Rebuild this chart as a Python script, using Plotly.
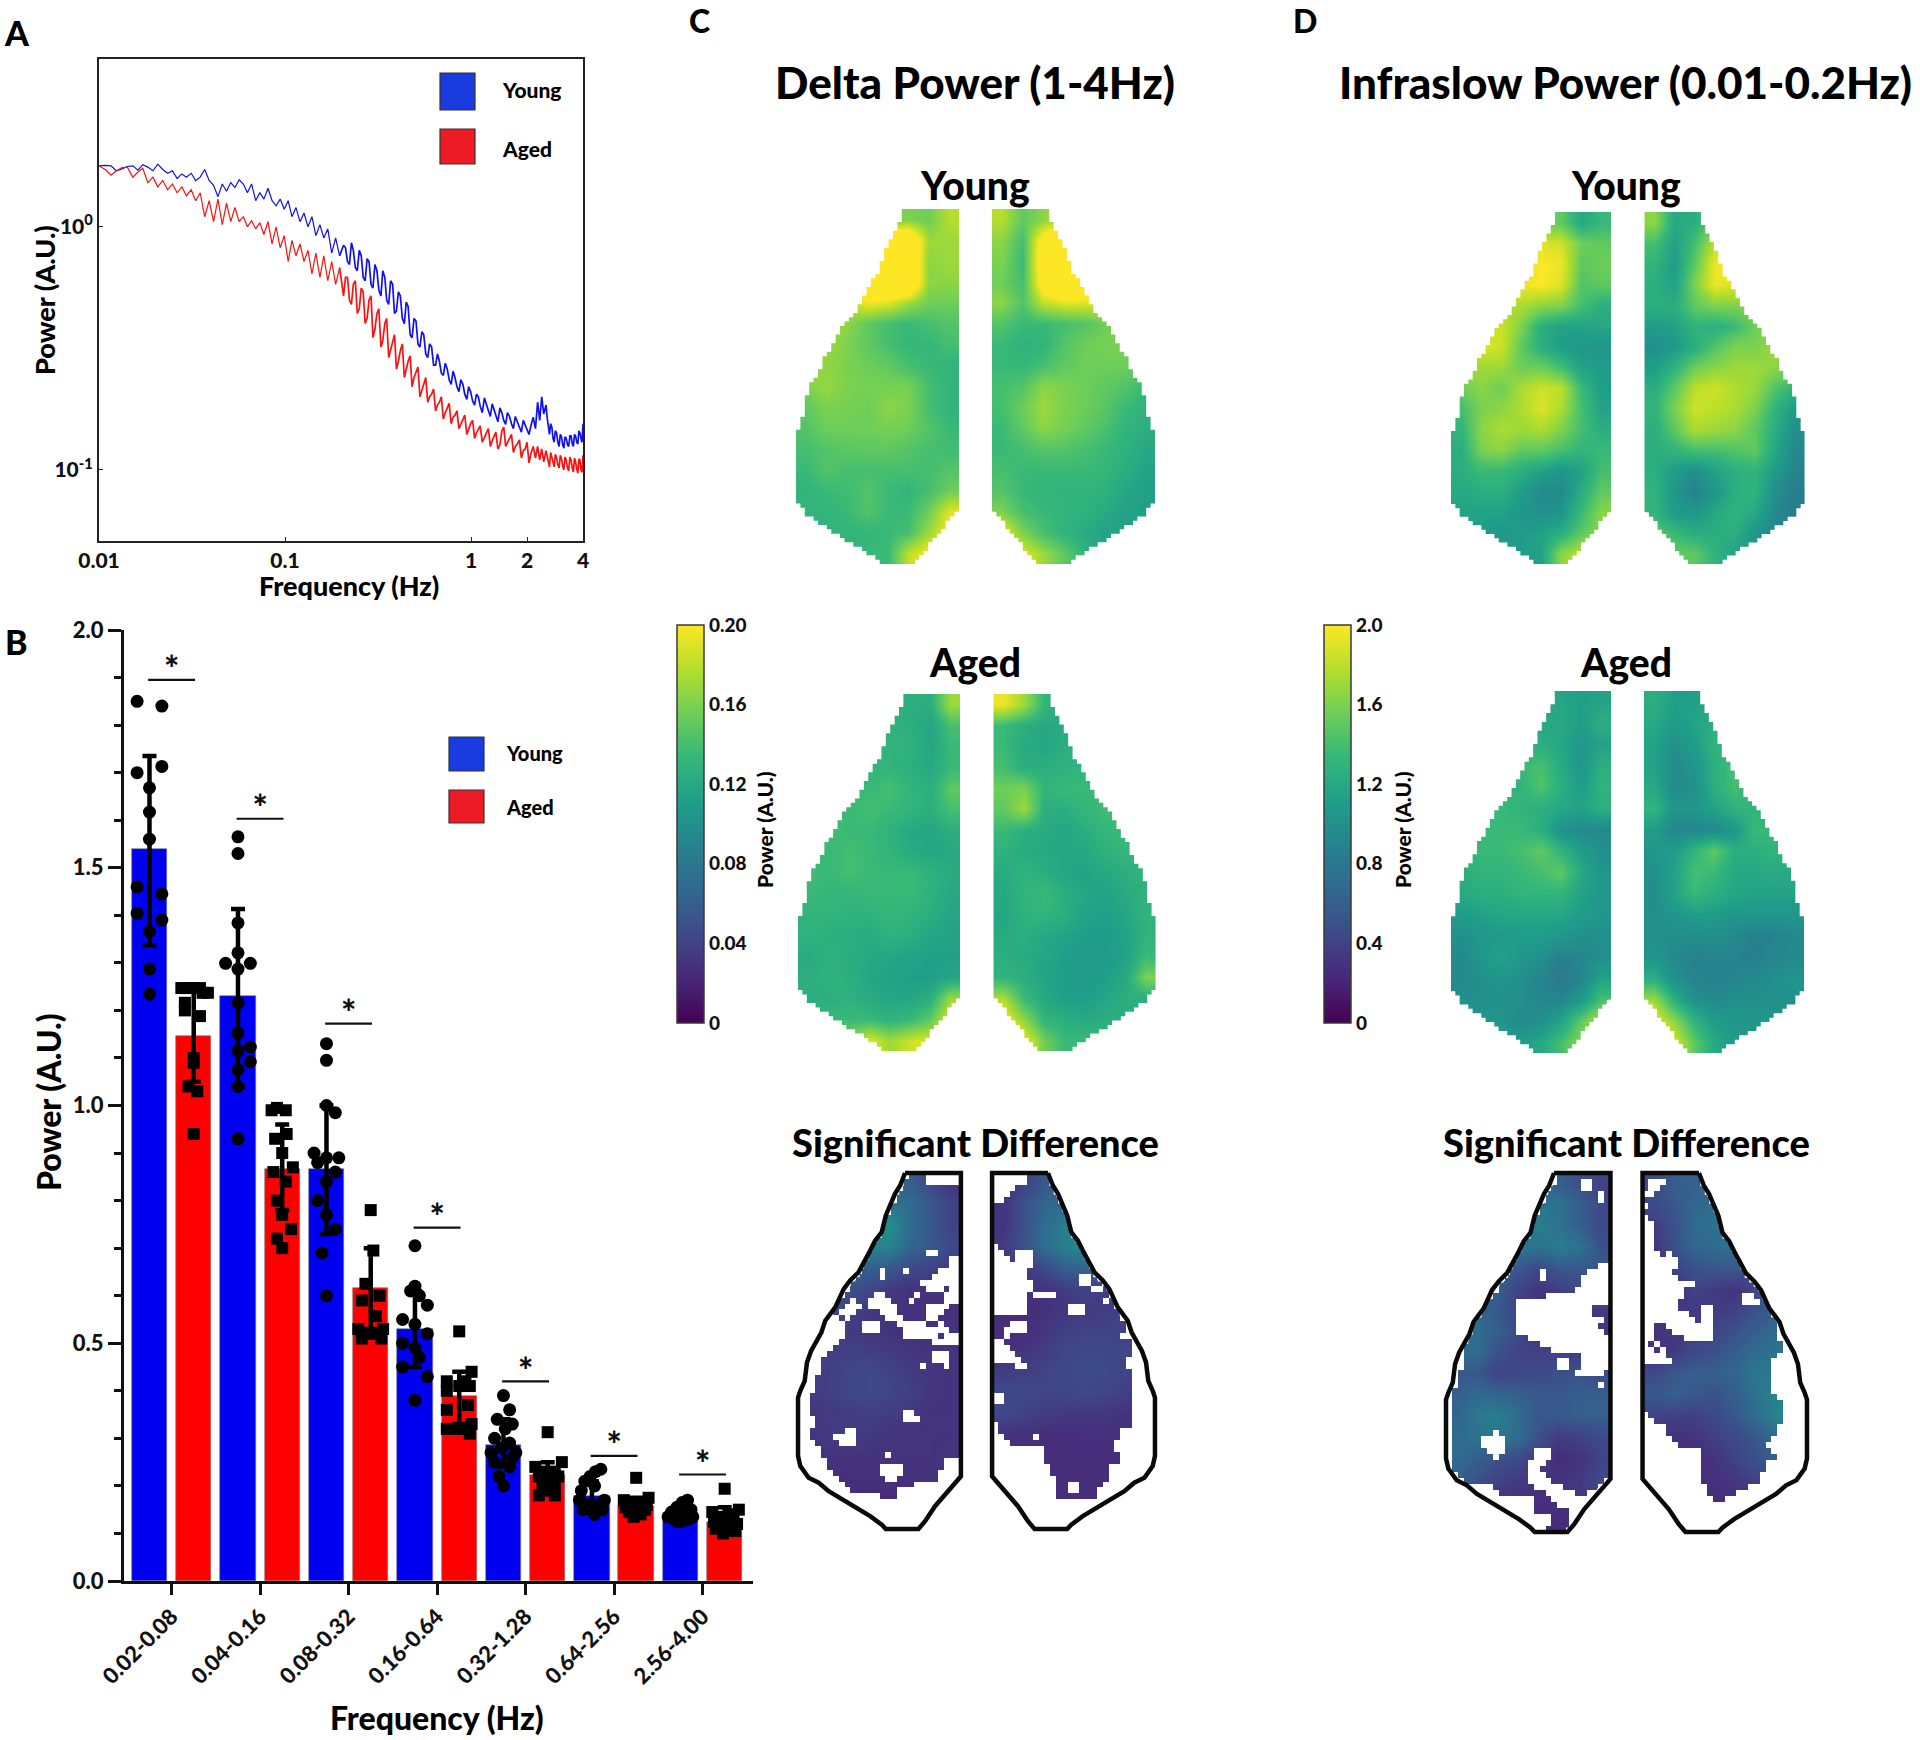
import numpy as np
import plotly.graph_objects as go

W, H = 1920, 1740
FONT = "Lato"
FW = 900
BLUE, RED = "#0000f0", "#ff0000"

# ---------- Panel A ----------
FREQ = [.0100,.0108,.0116,.0124,.0133,.0142,.0152,.0162,.0172,.0183,
 .0195,.0207,.0220,.0234,.0248,.0263,.0279,.0295,.0313,.0331,
 .0350,.0370,.0391,.0413,.0436,.0460,.0485,.0511,.0538,.0567,
 .0597,.0628,.0661,.0696,.0732,.0770,.0810,.0852,.0896,.0942,
 .0990,.104,.109,.1146,.1204,.1265,.1329,.1396,.1466,.154,
 .1617,.1698,.1783,.1872,.1966,.2064,.2167,.2275,.2388,.2507,
 .2632,.2763,.290,.3044,.3195,.3354,.352,.3695,.3878,.407,
 .4272,.4484,.4706,.4939,.5184,.5441,.571,.5993,.629,.6601,
 .6928,.7271,.7631,.8009,.8405,.8821,.9258,.9716,1.02,1.07,
 1.12,1.18,1.24,1.30,1.36,1.43,1.50,1.57,1.65,1.73,
 1.82,1.91,2.00,2.10,2.16,2.22,2.28,2.34,2.40,2.46,
 2.53,2.60,2.68,2.76,2.84,2.93,3.02,3.11,3.20,3.30,
 3.40,3.50,3.60,3.70,3.80,3.90,4.00]
YOUNG_PSD = [1.78,1.79,1.78,1.70,1.73,1.77,1.78,1.71,1.80,1.76,
 1.70,1.81,1.72,1.66,1.70,1.58,1.65,1.60,1.66,1.55,
 1.60,1.72,1.55,1.48,1.33,1.50,1.40,1.52,1.45,1.56,
 1.50,1.38,1.50,1.28,1.38,1.30,1.44,1.28,1.22,1.30,
 1.18,1.28,1.10,1.20,1.05,1.14,1.00,1.10,.92,1.02,
 .90,.98,.78,.90,.76,.84,.72,.86,.68,.80,
 .62,.74,.58,.70,.55,.66,.50,.60,.44,.54,
 .42,.49,.36,.42,.33,.37,.30,.33,.27,.30,
 .25,.275,.235,.255,.22,.235,.205,.22,.192,.205,
 .183,.198,.175,.187,.168,.18,.16,.172,.155,.166,
 .15,.16,.145,.152,.165,.148,.19,.16,.20,.17,
 .185,.15,.155,.135,.145,.13,.14,.127,.137,.127,
 .138,.128,.14,.13,.145,.135,.155]
AGED_PSD = [1.78,1.72,1.63,1.70,1.75,1.76,1.60,1.68,1.74,1.52,
 1.60,1.46,1.55,1.42,1.50,1.38,1.46,1.34,1.42,1.28,
 1.38,1.10,1.28,1.05,1.30,1.02,1.25,1.05,1.20,1.05,
 1.10,1.00,1.06,.98,1.04,.93,1.05,.85,1.00,.82,
 .92,.72,.88,.76,.85,.72,.80,.64,.78,.62,
 .76,.60,.72,.58,.68,.52,.62,.48,.60,.46,
 .54,.42,.52,.38,.46,.34,.42,.31,.36,.28,
 .33,.26,.295,.24,.265,.215,.24,.20,.215,.185,
 .20,.172,.188,.165,.175,.155,.168,.148,.16,.142,
 .152,.137,.148,.132,.143,.127,.15,.13,.14,.125,
 .133,.12,.13,.117,.125,.112,.125,.11,.122,.108,
 .12,.108,.118,.106,.116,.105,.115,.104,.113,.102,
 .113,.102,.112,.101,.111,.1,.115]
FREQ_EXTRA = [.2115,.222,.233,.2447,.257,.2697,.283,.297,.312,.328,.344,.361,.379,.397,.417,.438,.459,.482,.506,.531,
 .557,.585,.614,.645,.676,.71,.745,.782,.82,.861,.904,.949,.995,1.045,1.095,1.15,1.21,1.27,1.33,1.395,
 1.465,1.535,1.61,1.69,1.775,1.865,1.955,2.05,
 2.565,2.64,2.72,2.8,2.885,2.975,3.065,3.155,3.25,3.35,3.45,3.55,3.65,3.75,3.85,3.95]
YOUNG_EXTRA = [.82,.70,.80,.66,.76,.60,.72,.56,.66,.52,.62,.48,.58,.45,.52,.40,.47,.35,.41,.32,
 .36,.29,.32,.27,.28,.245,.26,.225,.24,.21,.225,.195,.21,.185,.2,.172,.186,.166,.178,.158,
 .172,.154,.166,.148,.158,.143,.153,.14,
 .165,.14,.15,.13,.142,.125,.137,.123,.135,.125,.138,.125,.138,.128,.142,.13]
AGED_EXTRA = [.62,.50,.58,.44,.56,.40,.50,.35,.44,.32,.40,.29,.34,.26,.31,.24,.28,.22,.25,.2,
 .225,.19,.205,.175,.19,.162,.18,.155,.168,.148,.16,.14,.155,.135,.148,.13,.142,.125,.138,.122,
 .145,.125,.135,.118,.128,.112,.122,.107,
 .114,.103,.112,.103,.112,.102,.111,.1,.11,.099,.11,.098,.108,.097,.11,.098]

# ---------- Panel B ----------
BANDS = ["0.02-0.08","0.04-0.16","0.08-0.32","0.16-0.64","0.32-1.28","0.64-2.56","2.56-4.00"]
YOUNG_MEAN = [1.54,1.23,.867,.53,.286,.178,.13]
AGED_MEAN = [1.146,.867,.617,.39,.222,.158,.124]
YOUNG_HI = [1.735,1.413,1.00,.61,.34,.21,.145]
YOUNG_LO = [1.337,1.04,.73,.45,.24,.155,.12]
AGED_HI = [1.24,.96,.70,.44,.25,.175,.155]
AGED_LO = [1.05,.78,.53,.33,.19,.14,.10]
SIG_Y = [1.895,1.603,1.172,.743,.42,.263,.224]
YOUNG_PTS = [
 [1.85,1.84,1.70,1.713,1.668,1.617,1.56,1.46,1.445,1.404,1.39,1.366,1.287,1.234],
 [1.565,1.53,1.384,1.321,1.287,1.299,1.299,1.216,1.152,1.123,1.115,1.092,1.075,1.04,.93],
 [1.13,1.095,1.0,.985,.90,.89,.89,.88,.86,.84,.80,.77,.74,.69,.60],
 [.705,.62,.61,.60,.58,.55,.54,.52,.50,.49,.47,.45,.43,.38],
 [.39,.36,.34,.33,.32,.30,.29,.28,.27,.27,.26,.25,.24,.22,.20],
 [.235,.23,.22,.21,.20,.19,.17,.17,.16,.16,.15,.15,.15,.14],
 [.17,.165,.155,.15,.145,.14,.135,.135,.13,.13,.125,.125],
]
YOUNG_OFF = [
 [-.14,.14,-.14,.14,0,0,0,-.14,.14,-.14,.14,0,0,0],
 [0,0,0,0,0,-.14,.14,0,0,.14,0,.14,0,0,0],
 [0,0,0,.1,-.14,.14,0,-.1,.1,0,-.1,0,.1,-.05,0],
 [0,0,-.05,.05,.14,-.14,0,.14,-.14,0,.05,-.14,.14,0],
 [0,.07,-.07,.1,.02,-.1,.07,-.02,.14,-.14,.1,-.1,.07,-.05,0],
 [.1,.04,-.02,-.08,.03,-.12,.14,-.14,.08,-.06,.12,-.1,0,.03],
 [.08,.02,-.04,.12,-.1,.05,-.14,.14,-.07,.09,0,-.03],
]
AGED_PTS = [
 [1.247,1.247,1.247,1.247,1.237,1.237,1.216,1.2,1.188,1.10,1.09,1.04,1.03,.94],
 [.995,.99,.99,.94,.93,.90,.87,.86,.84,.80,.77,.74,.72,.70],
 [.78,.695,.625,.60,.59,.557,.53,.53,.52,.52,.51,.51],
 [.525,.44,.42,.42,.41,.41,.40,.37,.36,.33,.32,.32,.32,.31],
 [.313,.25,.24,.23,.23,.22,.22,.21,.20,.20,.19,.18,.18],
 [.217,.175,.17,.165,.16,.16,.155,.15,.15,.145,.14,.135],
 [.194,.15,.145,.14,.14,.135,.13,.125,.12,.115,.11,.105,.10],
]
AGED_OFF = [
 [-.14,-.07,0,.07,.1,.16,-.1,-.1,.07,0,0,-.06,.04,0],
 [-.06,.04,-.12,.05,-.08,0,.12,-.1,.04,-.06,0,.1,-.06,0],
 [0,.03,-.06,.1,-.1,.06,-.14,.14,-.05,.03,.12,-.1],
 [0,.14,-.14,.07,0,.12,-.14,.1,-.14,.14,-.14,-.03,.05,.12],
 [0,.16,-.14,.08,-.04,.12,-.1,.02,.08,-.06,.02,-.1,.08],
 [0,.14,-.14,.06,-.05,.12,-.12,.02,.1,-.08,.05,-.03],
 [0,.16,-.14,.05,.1,-.06,0,-.12,.14,.02,-.1,.12,-.02],
]

# ---------- Panels C, D: brain maps, 8 x 17 per hemisphere, scale 0-200 ----------
C_YOUNG_L = [
[160,160,160,160,160,160,155,178],[200,200,200,230,240,240,170,170],[200,200,200,240,240,240,165,170],
[240,240,240,240,240,240,165,165],[175,175,175,195,190,170,155,155],[170,170,165,150,140,135,140,145],
[170,170,160,150,140,133,133,140],[165,165,160,155,150,140,135,130],[160,168,160,158,158,158,140,130],
[150,160,158,155,165,160,140,130],[145,155,155,155,158,155,145,135],[140,145,148,150,150,145,140,138],
[135,145,140,140,140,140,140,145],[130,135,138,145,135,132,140,155],[130,130,135,145,135,135,155,190],
[130,130,130,132,135,140,170,200],[130,130,130,135,135,180,200,200]]
C_YOUNG_R = [
[178,150,165,180,180,180,180,180],[165,140,215,240,240,190,190,190],[160,135,225,240,240,240,200,200],
[155,140,215,240,240,240,240,200],[165,145,180,190,190,185,170,170],[145,135,135,140,145,155,160,165],
[135,128,130,145,155,158,160,160],[135,133,140,150,155,155,155,150],[140,145,165,160,155,150,145,135],
[140,155,170,160,155,148,135,128],[135,150,165,158,150,142,130,125],[135,140,145,145,140,135,128,120],
[140,135,135,135,135,132,125,115],[145,135,130,130,130,128,118,112],[160,140,135,130,128,122,115,112],
[195,160,140,130,122,115,115,115],[200,190,170,150,130,120,118,118]]
C_AGED_L = [
[130,130,130,130,130,125,125,170],[130,130,130,130,130,125,118,140],[130,130,130,130,130,128,118,135],
[130,130,130,132,130,125,120,135],[135,135,135,135,140,130,125,150],[135,135,135,140,135,130,125,140],
[135,138,135,135,128,120,118,125],[135,135,140,135,130,122,118,120],[138,135,140,135,135,135,128,122],
[135,132,132,135,135,135,128,120],[130,130,128,128,132,130,125,118],[128,125,125,122,128,125,118,115],
[122,128,125,120,118,115,112,112],[125,128,125,118,115,112,112,118],[125,125,128,122,118,118,125,170],
[135,135,135,135,128,135,150,190],[150,150,160,190,170,185,190,190]]
C_AGED_R = [
[195,170,130,125,125,125,125,125],[135,125,120,122,125,125,125,125],[135,122,118,125,128,128,128,128],
[140,125,125,128,130,130,130,130],[155,160,130,135,135,135,135,135],[150,170,125,125,132,138,138,138],
[135,125,122,118,125,132,138,138],[128,122,120,118,120,128,132,135],[122,130,125,118,115,120,125,130],
[120,130,135,125,118,115,122,128],[118,128,130,125,115,112,118,130],[122,125,120,115,110,110,115,130],
[125,122,118,112,108,108,115,135],[130,125,115,110,108,112,120,160],[175,135,120,112,112,118,125,125],
[200,165,130,125,120,125,125,125],[200,195,155,135,135,135,135,135]]
D_YOUNG_L = [
[155,155,155,155,155,150,120,135],[190,190,190,190,190,185,155,150],[190,190,190,190,200,195,150,155],
[195,195,195,195,200,190,145,150],[175,175,175,175,165,160,140,125],[185,185,185,160,125,115,115,120],
[175,190,185,150,125,110,105,105],[170,170,170,155,155,140,115,110],[155,165,155,175,185,180,135,110],
[140,160,165,175,190,175,140,115],[130,165,175,170,175,160,140,125],[125,160,165,150,150,140,130,135],
[125,135,135,125,115,105,115,140],[120,125,125,110,95,95,125,150],[115,115,115,105,100,105,135,165],
[115,110,105,110,115,125,150,165],[115,110,110,110,115,165,180,180]]
D_YOUNG_R = [
[165,120,125,150,150,150,150,150],[140,115,140,180,185,170,170,170],[130,110,150,195,200,190,190,190],
[125,115,160,195,190,185,185,185],[125,125,150,160,160,165,165,165],[110,115,130,125,135,155,165,165],
[100,108,125,145,160,160,170,165],[110,130,155,165,170,170,165,160],[125,150,180,185,175,170,145,130],
[130,160,185,180,175,160,130,110],[125,150,175,170,165,150,125,100],[125,130,140,140,145,150,120,95],
[125,110,100,115,125,130,110,90],[130,105,90,105,125,130,100,85],[130,110,105,120,130,120,95,85],
[150,135,125,125,125,105,95,90],[165,150,150,130,115,105,100,100]]
D_AGED_L = [
[120,120,120,120,120,118,112,115],[120,120,120,120,120,120,112,125],[125,125,125,130,125,118,105,115],
[130,130,130,135,140,122,105,125],[130,130,130,130,145,125,110,130],[135,135,135,130,125,120,115,125],
[135,135,135,135,125,100,95,95],[130,135,135,140,150,130,110,100],[125,130,130,135,140,150,120,105],
[120,125,125,130,130,130,115,105],[110,115,118,118,118,118,110,105],[100,105,108,110,110,105,100,100],
[95,105,115,105,100,88,92,100],[95,100,105,100,90,80,92,115],[100,100,100,100,92,92,105,140],
[105,105,105,95,100,115,150,180],[110,110,110,110,120,140,165,170]]
D_AGED_R = [
[125,112,112,120,120,120,120,120],[120,108,115,125,125,125,125,125],[115,100,110,130,135,135,135,135],
[115,95,105,125,140,135,135,135],[120,95,100,125,140,130,130,130],[130,105,105,115,130,130,130,130],
[110,92,92,95,105,135,135,135],[105,110,130,150,125,125,130,130],[100,115,140,135,120,120,122,122],
[98,115,135,125,118,115,115,115],[100,105,110,110,105,105,105,105],[100,98,98,100,95,88,90,95],
[105,95,88,90,90,85,92,95],[125,100,90,88,90,95,100,105],[170,125,100,95,100,100,100,100],
[195,165,130,110,105,105,105,105],[195,190,150,120,110,105,105,105]]
C_SIG_L = [
[60,60,60,60,60,60,45,30],[70,70,70,70,75,70,55,40],[80,80,80,85,100,70,55,40],[75,75,75,90,90,65,55,45],
[55,55,60,60,55,45,40,35],[50,50,50,45,35,30,30,30],[45,45,40,35,30,28,28,28],[40,38,35,32,30,28,28,28],
[40,38,38,38,35,32,30,30],[38,38,42,45,40,35,32,30],[36,38,42,45,42,38,32,30],[32,34,36,38,36,34,30,30],
[30,36,36,34,30,30,30,30],[28,30,30,30,30,30,30,32],[25,25,28,28,28,28,30,32],[25,25,25,25,25,25,28,30],
[25,25,25,25,25,25,25,25]]
C_SIG_R = [
[25,40,55,60,60,60,60,60],[30,50,65,70,70,70,70,70],[30,50,70,85,95,90,90,90],[35,50,70,85,95,90,80,80],
[30,35,45,60,65,60,50,50],[25,30,30,35,40,40,40,40],[25,25,28,32,35,36,38,38],[25,25,32,38,40,40,40,40],
[28,32,36,42,44,44,42,40],[36,38,40,44,46,45,42,40],[44,44,42,42,44,42,38,36],[44,40,36,34,34,32,30,30],
[30,28,26,26,28,28,28,28],[26,26,26,26,26,26,26,26],[26,26,26,26,26,26,26,26],[26,26,26,26,26,26,26,26],
[26,26,26,26,26,26,26,26]]
D_SIG_L = [
[60,60,60,60,60,60,50,40],[75,75,75,75,80,75,60,45],[75,75,75,75,85,75,60,45],[75,75,75,80,75,85,75,50],
[65,65,65,55,45,55,55,55],[70,70,60,40,30,38,45,50],[60,65,55,40,30,30,32,35],[70,70,60,45,30,30,30,30],
[70,70,50,40,40,40,35,30],[55,55,40,45,45,50,50,45],[60,70,65,60,55,55,60,60],[65,80,85,70,55,55,60,60],
[70,75,80,70,50,35,40,45],[70,60,50,45,35,25,30,40],[60,50,40,35,30,30,35,45],[50,40,30,28,28,28,35,35],
[30,25,25,25,25,25,25,25]]
D_SIG_R = [
[45,60,60,65,60,60,60,60],[45,55,65,70,70,65,65,65],[35,50,70,75,80,70,70,70],[30,50,65,70,75,70,65,65],
[30,40,50,55,55,45,40,40],[30,30,40,35,30,45,55,55],[30,30,35,35,40,50,60,65],[30,32,38,42,50,60,70,70],
[30,35,45,50,60,70,75,75],[45,55,60,60,65,80,80,80],[55,60,55,50,60,75,90,90],[40,38,38,45,55,70,90,95],
[30,28,30,38,45,55,70,80],[28,28,25,30,40,50,60,60],[28,28,28,28,32,40,45,45],[28,25,25,25,28,32,35,35],
[25,25,25,25,25,25,25,25]]

# non-significant (white) column spans per row of a 28 x 60 grid
ALL = [(0,27)]
C_HOLES_L = [[(0,18),(22,27)],[(0,17),(22,27)],[(0,17)],[(0,16)],[(0,16)],[(0,15)],[(0,15)],[(0,14)],[(0,14)],[(0,13)],
[(0,12)],[(0,12)],[(0,11)],[(0,11),(22,23)],[(0,10),(26,27)],[(0,10),(26,27)],[(0,10),(14,14),(18,18),(24,27)],
[(0,9),(14,14),(23,27)],[(0,8),(21,27)],[(0,8),(22,24),(26,27)],[(0,7),(13,14),(20,20),(25,27)],
[(0,6),(9,9),(12,15),(19,19),(25,27)],[(0,5),(8,10),(12,16),(22,25)],[(0,4),(7,9),(14,16),(22,24)],
[(0,6),(8,8),(15,17),(22,23)],[(0,7),(11,13),(17,21),(24,24)],[(0,7),(11,13),(18,22),(23,25)],[(0,7),(18,23),(25,27)],
[(0,6),(23,27)],[(0,5)],[(0,4),(23,25)],[(0,3),(23,25)],[(0,3),(21,21),(25,25)],[(0,3)],[(0,2)],[(0,2)],[(0,2)],
[(0,1)],[(0,1)],[(0,1)],[(0,1),(18,19)],[(0,2),(18,20)],[(0,2)],[(0,1),(8,9)],[(0,1),(6,9)],[(0,2),(7,9)],[(0,3)],
[(0,3),(15,15)],[(0,4),(25,27)],[(0,4),(14,17),(25,27)],[(0,5),(14,17),(24,27)],[(0,6),(15,16),(24,27)],
[(0,7),(20,27)],[(0,8),(17,27)],[(0,13),(17,27)],ALL,ALL,ALL,ALL,ALL]
C_HOLES_R = [[(0,5),(10,27)],[(0,5),(10,27)],[(0,3),(11,27)],[(0,2),(11,27)],[(0,1),(12,27)],[(12,27)],[(13,27)],[(13,27)],
[(14,27)],[(15,27)],[(15,27)],[(16,27)],[(0,0),(16,27)],[(0,1),(4,6),(17,27)],[(0,2),(4,6),(17,27)],[(0,6),(18,27)],
[(0,5),(18,27)],[(0,5),(15,16),(18,27)],[(0,6),(15,16),(19,27)],[(0,6),(17,18),(20,27)],[(0,5),(7,10),(20,27)],
[(0,5),(19,19),(21,27)],[(0,5),(13,15),(21,27)],[(0,5),(13,15),(22,27)],[(22,27)],[(3,5),(23,27)],[(2,5),(23,27)],
[(2,2),(22,27)],[(0,1),(24,27)],[(0,2),(24,27)],[(0,3),(24,27)],[(0,4),(23,27)],[(4,5),(23,27)],[(24,27)],[(24,27)],
[(24,27)],[(24,27)],[(0,1),(24,27)],[(0,1),(24,27)],[(24,27)],[(24,27)],[(24,27)],[(0,0),(24,27)],[(0,0),(22,27)],
[(0,1),(7,7),(22,27)],[(0,2),(21,27)],[(0,8),(21,27)],[(0,8),(22,27)],[(0,8),(22,27)],[(0,9),(20,27)],[(0,9),(20,27)],
[(0,10),(20,27)],[(0,10),(13,14),(19,27)],[(0,10),(13,14),(18,27)],[(0,10),(18,27)],ALL,ALL,ALL,ALL,ALL]
D_HOLES_L = [[(0,18)],[(0,18),(23,24)],[(0,17),(23,24)],[(0,16),(26,26)],[(0,16),(26,26)],[(0,15)],[(0,15)],[(0,14)],[(0,14)],
[(0,13)],[(0,12)],[(0,12)],[(0,11)],[(0,11)],[(0,10)],[(0,10),(26,27)],[(0,10),(16,16),(24,27)],[(0,9),(16,16),(23,27)],
[(0,8),(23,27)],[(0,8),(22,27)],[(0,7),(17,27)],[(0,6),(12,27)],[(0,5),(12,24)],[(0,5),(12,24)],[(0,4),(12,26)],
[(0,3),(12,25)],[(0,3),(12,26)],[(0,3),(14,27)],[(0,2),(16,27)],[(0,2),(18,27)],[(0,2),(23,27)],[(0,2),(19,20),(23,27)],
[(0,2),(19,20),(23,27)],[(0,1),(22,26)],[(0,1)],[(0,1),(26,26)],[(0,0)],[(0,0)],[(0,0)],[(0,0)],[(0,0)],[(0,0)],[(0,0)],
[(0,0),(8,8)],[(0,0),(6,9)],[(0,0),(6,9)],[(0,0),(7,9),(15,17)],[(0,0),(8,8),(15,17)],[(0,0),(14,16)],[(0,0),(14,15)],
[(0,1),(14,16)],[(0,2),(14,17),(27,27)],[(0,5),(6,7),(15,19),(26,27)],[(0,6),(7,8),(17,21),(24,27)],[(0,14),(18,27)],
[(0,14),(19,27)],[(0,14),(21,27)],[(0,17),(21,27)],[(0,17),(21,27)],[(0,16),(21,27)]]
D_HOLES_R = [[(11,27)],[(1,3),(11,27)],[(1,2),(11,27)],[(0,1),(11,27)],[(12,27)],[(0,0),(12,27)],[(13,27)],[(0,0),(13,27)],
[(0,1),(14,27)],[(0,1),(14,27)],[(0,1),(15,27)],[(0,1),(15,27)],[(0,1),(16,27)],[(0,2),(4,4),(17,27)],[(0,3),(4,5),(17,27)],
[(0,5),(18,27)],[(0,4),(18,27)],[(0,5),(19,27)],[(0,8),(19,27)],[(0,6),(20,27)],[(0,6),(17,18),(21,27)],
[(0,5),(17,19),(21,27)],[(0,5),(10,11),(22,27)],[(0,7),(10,11),(22,27)],[(0,8),(10,11),(23,27)],[(0,1),(4,11),(23,27)],
[(0,1),(5,11),(23,27)],[(0,1),(7,11),(23,27)],[(0,0),(2,2),(24,27)],[(0,1),(3,3),(24,27)],[(0,3),(23,27)],[(0,4),(22,27)],
[(22,27)],[(22,27)],[(22,27)],[(22,27)],[(22,27)],[(23,27)],[(24,27)],[(24,27)],[(0,0),(24,27)],[(0,1),(24,27)],
[(0,3),(23,27)],[(0,3),(23,27)],[(0,4),(22,27)],[(0,5),(21,27)],[(0,9),(22,27)],[(0,9),(23,27)],[(0,9),(21,27)],
[(0,9),(21,27)],[(0,9),(20,27)],[(0,9),(20,27)],[(0,10),(18,27)],[(0,10),(16,27)],[(0,11),(14,27)],ALL,ALL,ALL,ALL,ALL]

# hemisphere outline, left hemisphere, as fractions of its box
OUT_U = [.657,.627,.596,.561,.539,.514,.473,.443,.402,.371,.32,.28,.229,.167,.143,.106,.08,.055,.041,.014,0,0,.014,.065,.127,.188,.269,.361,.443,.514,.539]
OUT_V = [0,.035,.058,.096,.119,.166,.19,.218,.251,.279,.302,.326,.377,.415,.448,.476,.5,.532,.584,.612,.631,.795,.823,.856,.87,.894,.917,.941,.964,.988,1]
CHAMFER_U = [.739,.78,.841,.922,1]
CHAMFER_V = [1,.978,.936,.894,.852]

fig = go.Figure()
PAD_X, PAD_Y = .03, .02

def dom(a, b, size):
    return [a/size, b/size]

def ydom(top, bot):
    return [1-bot/H, 1-top/H]

AXN = {"n": 2}
layout = {}

def exterior(off, mirror):
    rows = np.arange(0, 1.0001, 1/82)
    ul = np.round(np.interp(rows, OUT_V, OUT_U)*37)/37
    xs, ys = [], []
    for i in range(len(rows)-1):
        xs += [ul[i], ul[i]]; ys += [rows[i], rows[i+1]]
    rr = rows[rows >= .852][::-1]
    um = np.round(np.interp(rr, CHAMFER_V[::-1], CHAMFER_U[::-1])*37)/37
    for i in range(len(rr)-1):
        xs += [um[i], um[i]]; ys += [rr[i], rr[i+1]]
    xs += [1, 1.06, 1.06, -.06, -.06, xs[0], xs[0]]
    ys += [.852, .852, 1.06, 1.06, -.06, -.06, 0]
    xs = np.array(xs)
    return (off+1-xs if mirror else off+xs), ys

def outline(off, mirror):
    xs = np.array(OUT_U + CHAMFER_U + [1, 1, OUT_U[0]])
    ys = OUT_V + CHAMFER_V + [.852, 0, 0]
    return (off+1-xs if mirror else off+xs), ys

def hole_grid(spans):
    z = np.full((60, 28), np.nan)
    for r, row in enumerate(spans):
        for a, b in row:
            z[r, a:b+1] = 1
    return z

def brain(zl, zr, box, holes=None, colorbar=None):
    L0, L1, R0, R1, T, B = box
    AXN["n"] += 1
    n = AXN["n"]
    w, h = L1-L0, B-T
    off = (R0-L0)/w
    xa, ya = f"x{n}", f"y{n}"
    layout[f"xaxis{n}"] = dict(domain=dom(L0-PAD_X*w, R1+PAD_X*w, W), range=[-PAD_X, off+1+PAD_X],
                               visible=False, anchor=ya, fixedrange=True)
    layout[f"yaxis{n}"] = dict(domain=ydom(T-PAD_Y*h, B+PAD_Y*h), range=[1+PAD_Y, -PAD_Y],
                               visible=False, anchor=xa, fixedrange=True)
    for i, (z, x0) in enumerate(((zl, 0), (zr, off))):
        if i == 0 and colorbar:
            kw = dict(showscale=True, colorbar=colorbar)
        else:
            kw = dict(showscale=False)
        fig.add_trace(go.Heatmap(z=z, x0=x0+1/16, dx=1/8, y0=1/34, dy=1/17, zmin=0, zmax=200, colorscale="Viridis",
                                 zsmooth="best", xaxis=xa, yaxis=ya, hoverinfo="skip", **kw))
    if holes is not None:
        for spans, x0 in ((holes[0], 0), (holes[1], off)):
            fig.add_trace(go.Heatmap(z=hole_grid(spans), x0=x0+1/56, dx=1/28, y0=1/120, dy=1/60, zmin=0, zmax=1,
                                     colorscale=[[0, "white"], [1, "white"]], showscale=False,
                                     xaxis=xa, yaxis=ya, hoverinfo="skip"))
    for o, m in ((0, False), (off, True)):
        xs, ys = exterior(o, m)
        fig.add_trace(go.Scatter(x=xs, y=ys, mode="lines", fill="toself", fillcolor="white",
                                 line=dict(color="white", width=0), xaxis=xa, yaxis=ya,
                                 hoverinfo="skip", showlegend=False))
    if holes is not None:
        for o, m in ((0, False), (off, True)):
            xs, ys = outline(o, m)
            fig.add_trace(go.Scatter(x=xs, y=ys, mode="lines", line=dict(color="#0a0a0a", width=4.5),
                                     xaxis=xa, yaxis=ya, hoverinfo="skip", showlegend=False))

def cbar(x0, labels):
    return dict(x=x0/W, xanchor="left", xpad=0, y=1-1023/H, yanchor="bottom", ypad=0,
                len=(1023-625)/H, lenmode="fraction", thickness=27, thicknessmode="pixels",
                outlinecolor="#3a3a3a", outlinewidth=1.5, ticks="", tickvals=[0,40,80,120,160,200], ticktext=labels,
                tickfont=dict(family=FONT, size=19, color="#111", weight=FW))

C_TICKS = ["0","0.04","0.08","0.12","0.16","0.20"]
D_TICKS = ["0","0.4","0.8","1.2","1.6","2.0"]

# ----- A -----
SPLIT = 0.2
def merged(base, extra):
    f = np.array(FREQ + FREQ_EXTRA)
    v = np.array(base + extra)
    order = np.argsort(f)
    return f[order], v[order]
for base, extra, col in ((YOUNG_PSD, YOUNG_EXTRA, "#1010f0"), (AGED_PSD, AGED_EXTRA, "#ff1010")):
    f, v = merged(base, extra)
    lo = f <= SPLIT
    hi = f >= f[lo][-1]
    fig.add_trace(go.Scatter(x=f[lo], y=v[lo], mode="lines", line=dict(color=col, width=1.2),
                             xaxis="x", yaxis="y", hoverinfo="skip", showlegend=False))
    fig.add_trace(go.Scatter(x=f[hi], y=v[hi], mode="lines", line=dict(color=col, width=1.7),
                             xaxis="x", yaxis="y", hoverinfo="skip", showlegend=False))
tf_a = dict(family=FONT, size=21, color="#111", weight=FW)
layout["xaxis"] = dict(domain=dom(99, 583, W), type="log", range=[-2, .602], anchor="y", mirror=True, showline=True,
                       linecolor="#222", linewidth=2, ticks="inside", ticklen=4, tickcolor="#222", showgrid=False,
                       tickvals=[.01,.1,1,2,4], ticktext=["0.01","0.1","1","2","4"], tickfont=tf_a, zeroline=False)
layout["yaxis"] = dict(domain=ydom(59, 541), type="log", range=[-1.292, .69], anchor="x", mirror=True, showline=True,
                       linecolor="#222", linewidth=2, ticks="inside", ticklen=4, tickcolor="#222", showgrid=False,
                       tickvals=[.1,1], ticktext=["10<sup>-1</sup>","10<sup>0</sup>"], tickfont=tf_a, zeroline=False)

# ----- B -----
XI = np.arange(len(BANDS))
def bar(pos, mean, hi, lo, color):
    fig.add_trace(go.Bar(x=pos, y=mean, width=.4, marker=dict(color=color, line=dict(color="#777", width=.6)),
                         error_y=dict(type="data", symmetric=False, array=np.array(hi)-np.array(mean),
                                      arrayminus=np.array(mean)-np.array(lo), color="black", thickness=4.5, width=7),
                         xaxis="x2", yaxis="y2", hoverinfo="skip", showlegend=False))
bar(XI, YOUNG_MEAN, YOUNG_HI, YOUNG_LO, BLUE)
bar(XI+.5, AGED_MEAN, AGED_HI, AGED_LO, RED)
for i in XI:
    fig.add_trace(go.Scatter(x=i+np.array(YOUNG_OFF[i]), y=YOUNG_PTS[i], mode="markers",
                             marker=dict(symbol="circle", color="black", size=13),
                             xaxis="x2", yaxis="y2", hoverinfo="skip", showlegend=False))
    fig.add_trace(go.Scatter(x=i+.5+np.array(AGED_OFF[i]), y=AGED_PTS[i], mode="markers",
                             marker=dict(symbol="square", color="black", size=12),
                             xaxis="x2", yaxis="y2", hoverinfo="skip", showlegend=False))
    fig.add_trace(go.Scatter(x=[i+.25-.265, i+.25+.265], y=[SIG_Y[i], SIG_Y[i]], mode="lines",
                             line=dict(color="#111", width=2.2),
                             xaxis="x2", yaxis="y2", hoverinfo="skip", showlegend=False))
    fig.add_trace(go.Scatter(x=[i+.25], y=[SIG_Y[i]-.024], mode="text", text=["*"],
                             textposition="top center", textfont=dict(family=FONT, size=36, color="#111", weight=FW),
                             xaxis="x2", yaxis="y2", hoverinfo="skip", showlegend=False))
layout["xaxis2"] = dict(domain=dom(124, 753, W), range=[-.288, 6.82], anchor="y2", showline=True, linecolor="#111", linewidth=3,
                        ticks="outside", ticklen=11, tickwidth=3, tickcolor="#111", showgrid=False, zeroline=False,
                        tickvals=list(XI+.25), ticktext=BANDS, tickangle=-45,
                        tickfont=dict(family=FONT, size=22, color="#111", weight=FW))
layout["yaxis2"] = dict(domain=ydom(630, 1581), range=[0, 2], anchor="x2", showline=True, linecolor="#111", linewidth=3,
                        ticks="outside", ticklen=13, tickwidth=3, tickcolor="#111", showgrid=False, zeroline=False,
                        tickvals=[0,.5,1,1.5,2], ticktext=["0.0","0.5","1.0","1.5","2.0"],
                        tickfont=dict(family=FONT, size=22, color="#111", weight=FW),
                        minor=dict(dtick=.1, ticks="outside", ticklen=7, tickwidth=2.5, tickcolor="#111", showgrid=False))

# ----- maps -----
brain(C_YOUNG_L, C_YOUNG_R, (796, 959, 992, 1155, 209, 564), colorbar=cbar(677, C_TICKS))
brain(C_AGED_L, C_AGED_R, (798, 960, 993, 1156, 694, 1051))
brain(C_SIG_L, C_SIG_R, (798, 960, 991, 1155, 1173, 1529), holes=(C_HOLES_L, C_HOLES_R))
brain(D_YOUNG_L, D_YOUNG_R, (1451, 1611, 1644, 1805, 212, 564), colorbar=cbar(1324, D_TICKS))
brain(D_AGED_L, D_AGED_R, (1451, 1611, 1644, 1804, 691, 1053))
brain(D_SIG_L, D_SIG_R, (1446, 1610, 1642, 1807, 1173, 1532), holes=(D_HOLES_L, D_HOLES_R))

# ----- text -----
TEXTS = [
 ("A", 17, 32, 34, 0), ("B", 16, 642, 34, 0), ("C", 699, 21, 32, 0), ("D", 1305, 21, 32, 0),
 ("Delta Power (1-4Hz)", 975, 82, 44, 0), ("Infraslow Power (0.01-0.2Hz)", 1625, 82, 44, 0),
 ("Young", 975, 185, 39, 0), ("Aged", 975, 662, 39, 0), ("Significant Difference", 975, 1142, 38, 0),
 ("Young", 1626, 185, 39, 0), ("Aged", 1626, 662, 39, 0), ("Significant Difference", 1626, 1142, 38, 0),
 ("Frequency (Hz)", 349, 585, 27, 0), ("Power (A.U.)", 44, 300, 27, -90),
 ("Frequency (Hz)", 437, 1717, 32, 0), ("Power (A.U.)", 48, 1102, 32, -90),
 ("Power (A.U.)", 764, 830, 21, -90), ("Power (A.U.)", 1402, 830, 21, -90),
 ("Young", 532, 89, 21, 0), ("Aged", 527, 149, 21, 0), ("Young", 534, 753, 20, 0), ("Aged", 530, 807, 20, 0),
]
anns = [dict(text=t, x=x/W, y=1-y/H, xref="paper", yref="paper", xanchor="center", yanchor="middle", showarrow=False,
             textangle=a, font=dict(family=FONT, size=s, color="black", weight=FW)) for t, x, y, s, a in TEXTS]
SW = [(440, 73, 475, 110, "#1a3be0"), (440, 129, 475, 164, "#ed1c24"), (449, 737, 484, 771, "#1a3be0"), (449, 790, 484, 823, "#ed1c24")]
shapes = [dict(type="rect", xref="paper", yref="paper", x0=a/W, x1=c/W, y0=1-d/H, y1=1-b/H, fillcolor=col,
               line=dict(color="#333", width=1.2), layer="above") for a, b, c, d, col in SW]

fig.update_layout(width=W, height=H, margin=dict(l=0, r=0, t=0, b=0, autoexpand=False), paper_bgcolor="white", plot_bgcolor="white",
                  showlegend=False, annotations=anns, shapes=shapes, bargap=0, font=dict(family=FONT), **layout)
fig.write_html("out.html", post_script="document.body.style.margin='0';", config={"displayModeBar": False})
